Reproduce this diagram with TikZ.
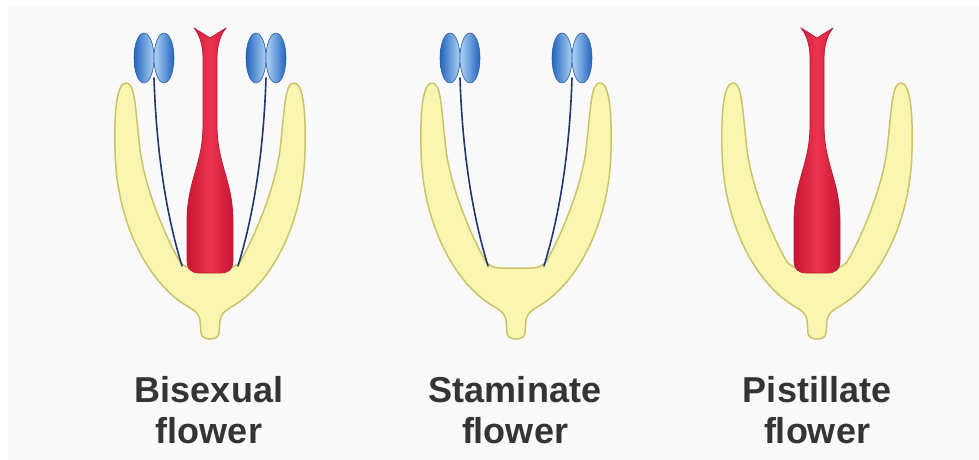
\documentclass[tikz,border=0pt]{standalone}
\usepackage{fontspec}
\setmainfont{Liberation Sans}
\begin{document}
\definecolor{bgcol}{RGB}{249,249,249}
\definecolor{sepalfill}{RGB}{250,245,176}
\definecolor{sepaledge}{RGB}{204,194,104}
\definecolor{pistdark}{RGB}{200,22,52}
\definecolor{pistlight}{RGB}{236,52,78}
\definecolor{pistedge}{RGB}{188,30,58}
\definecolor{antdark}{RGB}{34,100,190}
\definecolor{antlight}{RGB}{172,212,244}
\definecolor{antedge}{RGB}{48,94,162}
\definecolor{filcol}{RGB}{32,56,112}
\definecolor{labcol}{RGB}{52,52,52}
\begin{tikzpicture}[x=1pt,y=-1pt,
  sepalbody/.style={fill=sepalfill,draw=sepaledge,line width=1.5pt,line join=round},
  pistilbody/.style={left color=pistdark,right color=pistdark,middle color=pistlight,draw=pistedge,line width=0.8pt,line join=round},
  antherleft/.style={left color=antdark,right color=antlight,draw=antedge,line width=0.6pt},
  antherright/.style={left color=antlight,right color=antdark,draw=antedge,line width=0.6pt},
  filament/.style={draw=filcol,line width=1.6pt,line cap=round},
  flowerlabel/.style={text=labcol,font=\bfseries\fontsize{36}{41}\selectfont,align=center,anchor=base,inner sep=0pt},
  sepal/.pic={
    \path[sepalbody] (-84,83) .. controls (-93,83) and (-96,110) .. (-95,150)
      .. controls (-94,215) and (-68,272) .. (-32,300)
      .. controls (-20,309) and (-12,310) .. (-10,320) -- (-9,333)
      .. controls (-9,341) and (9,341) .. (9,333) -- (10,320)
      .. controls (12,310) and (20,309) .. (32,300)
      .. controls (68,272) and (94,215) .. (95,150)
      .. controls (96,110) and (93,83) .. (84,83)
      .. controls (75,83) and (75,105) .. (70,150)
      .. controls (64,195) and (40,245) .. (30,262)
      .. controls (24,268) and (20,268) .. (15,268) -- (-15,268)
      .. controls (-20,268) and (-24,268) .. (-30,262)
      .. controls (-40,245) and (-64,195) .. (-70,150)
      .. controls (-75,105) and (-75,83) .. (-84,83) -- cycle;
  },
  pistil/.pic={
    \path[pistilbody] (0,38) -- (16,28) .. controls (11,34) and (7,44) .. (7,58) -- (7,125)
      .. controls (7,165) and (23,180) .. (23,222) -- (23,260)
      .. controls (23,270) and (18,273) .. (10,273) -- (-10,273)
      .. controls (-18,273) and (-23,270) .. (-23,260) -- (-23,222)
      .. controls (-23,180) and (-7,165) .. (-7,125) -- (-7,58)
      .. controls (-7,44) and (-11,34) .. (-16,28) -- cycle;
  },
  stamens/.pic={
    \draw[filament] (-56,78) .. controls (-53,170) and (-39,230) .. (-28,266);
    \draw[filament] (56,78) .. controls (53,170) and (39,230) .. (28,266);
    \shade[antherleft] (-66,58) ellipse (10 and 25);
    \shade[antherright] (-46,58) ellipse (10 and 25);
    \shade[antherleft] (46,58) ellipse (10 and 25);
    \shade[antherright] (66,58) ellipse (10 and 25);
  }]
\useasboundingbox (0,0) rectangle (979,460);
\fill[white] (0,0) rectangle (979,460);
\fill[bgcol] (8,7) rectangle (979,460);

% bisexual flower
\pic at (210,0) {sepal};
\pic at (210,0) {stamens};
\pic at (210,0) {pistil};
\node[flowerlabel] (bisexual) at (209,443) {Bisexual\\flower};

% staminate flower
\pic at (516,0) {sepal};
\pic at (516,0) {stamens};
\node[flowerlabel] (staminate) at (515,443) {Staminate\\flower};

% pistillate flower
\pic at (817,0) {sepal};
\pic at (817,0) {pistil};
\node[flowerlabel] (pistillate) at (817,443) {Pistillate\\flower};
\end{tikzpicture}
\end{document}
